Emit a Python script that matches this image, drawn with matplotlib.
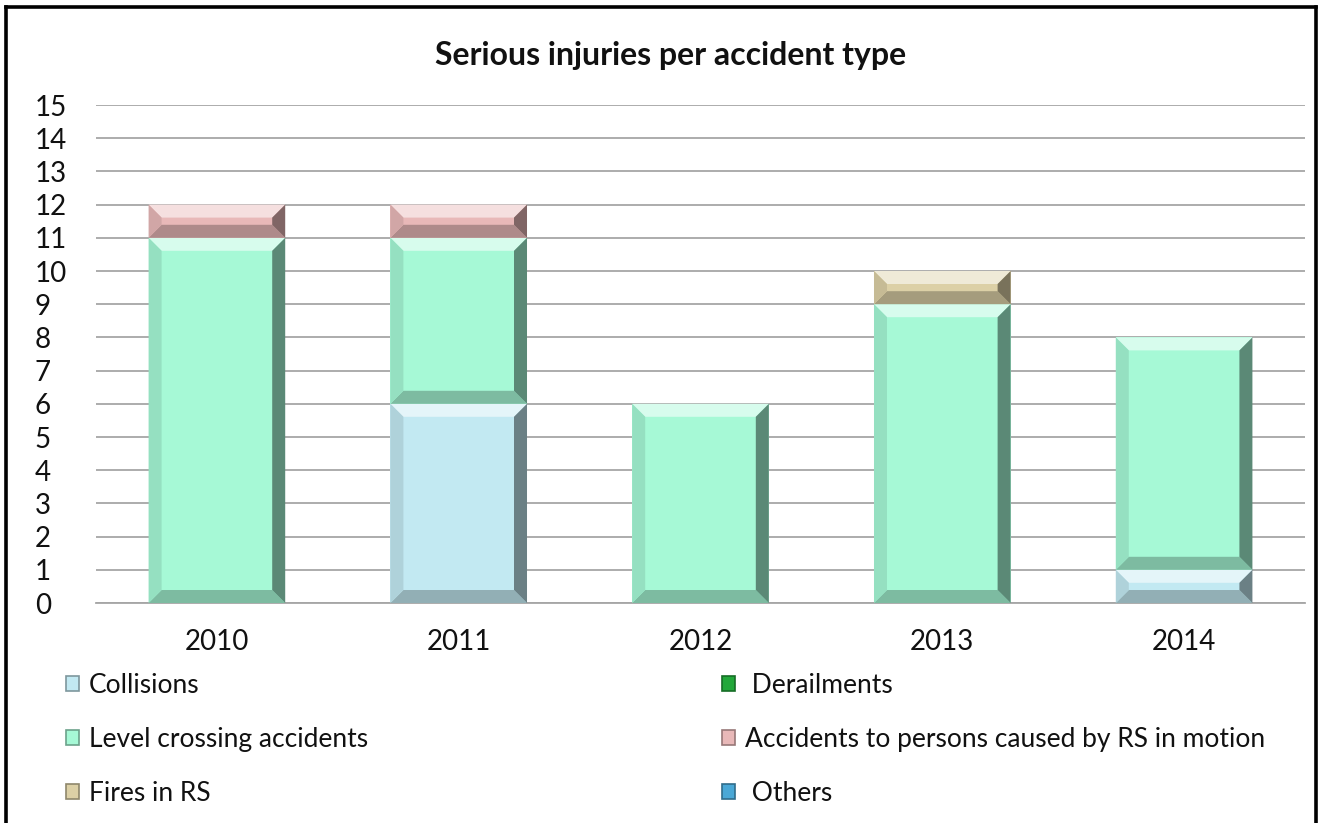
import numpy as np
import matplotlib
matplotlib.use("Agg")
import matplotlib.pyplot as plt
from matplotlib.patches import Polygon, Patch
from matplotlib.colors import to_rgb
from matplotlib.lines import Line2D

plt.rcParams["font.family"] = ["Lato", "DejaVu Sans"]

# ── Data ───────────────────────────────────────────────────────────────────────
years = ["2010", "2011", "2012", "2013", "2014"]
collisions        = [0, 6, 0, 0, 1]
derailments       = [0, 0, 0, 0, 0]
level_crossing    = [11, 5, 6, 9, 7]
accidents_persons = [1, 1, 0, 0, 0]
fires             = [0, 0, 0, 1, 0]
others            = [0, 0, 0, 0, 0]

series_names = ["Collisions", " Derailments", "Level crossing accidents",
                "Accidents to persons caused by RS in motion", "Fires in RS", " Others"]
series_vals = [collisions, derailments, level_crossing, accidents_persons, fires, others]
series_cols = ["#C2E9F2", "#22A83A", "#A6F9D6", "#E8B8B8", "#DCD0A6", "#4AA8D6"]

W, H, DPI = 1319, 823, 100
BEVEL = 13  # px


def mix(c, other, t):
    c = np.array(to_rgb(c)); o = np.array(to_rgb(other))
    return tuple(c * (1 - t) + o * t)


def bevel(ax, patch, col):
    """Draw chamfered edges on a bar segment (Excel style bevel)."""
    x0, y0 = patch.get_x(), patch.get_y()
    w, h = patch.get_width(), patch.get_height()
    if h <= 0:
        return
    inv = ax.transData.inverted()
    p0 = inv.transform((0, 0)); p1 = inv.transform((BEVEL, BEVEL))
    dx, dy = p1[0] - p0[0], p1[1] - p0[1]
    dy = min(dy, h / 2.2)
    x1, y1 = x0 + w, y0 + h
    parts = [
        ([(x0, y1), (x1, y1), (x1 - dx, y1 - dy), (x0 + dx, y1 - dy)], mix(col, "white", 0.55)),
        ([(x0, y0), (x1, y0), (x1 - dx, y0 + dy), (x0 + dx, y0 + dy)], mix(col, "black", 0.25)),
        ([(x0, y0), (x0, y1), (x0 + dx, y1 - dy), (x0 + dx, y0 + dy)], mix(col, "black", 0.10)),
        ([(x1, y0), (x1, y1), (x1 - dx, y1 - dy), (x1 - dx, y0 + dy)], mix(col, "black", 0.45)),
    ]
    for pts, c in parts:
        ax.add_patch(Polygon(pts, closed=True, facecolor=c, edgecolor="none", zorder=3))


fig = plt.figure(figsize=(W / DPI, H / DPI), dpi=DPI, facecolor="white")
ax = fig.add_axes([96 / W, 1 - 603 / H, (1305 - 96) / W, (603 - 105) / H])

x = np.arange(len(years))
ax.set_xlim(-0.5, len(years) - 0.5)
ax.set_ylim(0, 15)

bottom = np.zeros(len(years))
for name, vals, col in zip(series_names, series_vals, series_cols):
    bars = ax.bar(x, vals, width=0.565, bottom=bottom, color=col, zorder=2, linewidth=0)
    for p in bars:
        bevel(ax, p, col)
    bottom += np.array(vals)

ax.set_yticks(range(0, 16))
ax.set_xticks(x)
ax.set_xticklabels(years)
ax.yaxis.grid(True, color="#A6A6A6", linewidth=1.3)
ax.set_axisbelow(True)
for s in ["top", "right", "left"]:
    ax.spines[s].set_visible(False)
ax.spines["bottom"].set_color("#A6A6A6")
ax.spines["bottom"].set_linewidth(1.3)
ax.tick_params(length=0, labelsize=20, colors="#111111")
ax.tick_params(axis="x", pad=19)
for t in ax.get_yticklabels():
    t.set_horizontalalignment("left")
ax.tick_params(axis="y", pad=44)

fig.text(671 / W, 1 - 56 / H, "Serious injuries per accident type",
         ha="center", va="center", fontsize=23, fontweight="bold", color="#111111")

# ── Legend (two columns) ───────────────────────────────────────────────────────
handles = [Patch(facecolor=c, edgecolor=mix(c, "black", 0.35), linewidth=1.2)
           for c in series_cols]
order_l = [0, 2, 4]
order_r = [1, 3, 5]
kw = dict(frameon=False, fontsize=19, handlelength=0.48, handleheight=0.48,
          handletextpad=0.4, labelspacing=1.1, borderpad=0, borderaxespad=0,
          loc="upper left", labelcolor="#111111")
leg1 = fig.legend([handles[i] for i in order_l], [series_names[i] for i in order_l],
                  bbox_to_anchor=(66 / W, 1 - 673 / H), **kw)
leg2 = fig.legend([handles[i] for i in order_r], [series_names[i] for i in order_r],
                  bbox_to_anchor=(722 / W, 1 - 673 / H), **kw)

# ── Outer frame (left, top, right) ─────────────────────────────────────────────
fig.add_artist(Line2D([5.5 / W, 5.5 / W], [0, 1 - 6.5 / H], transform=fig.transFigure,
                      color="black", linewidth=2.6))
fig.add_artist(Line2D([5.5 / W, 1316 / W], [1 - 6.5 / H, 1 - 6.5 / H], transform=fig.transFigure,
                      color="black", linewidth=2.6))
fig.add_artist(Line2D([1316 / W, 1316 / W], [1 - 6.5 / H, 0], transform=fig.transFigure,
                      color="black", linewidth=2.6))

fig.savefig("out.png", dpi=DPI, facecolor="white")
